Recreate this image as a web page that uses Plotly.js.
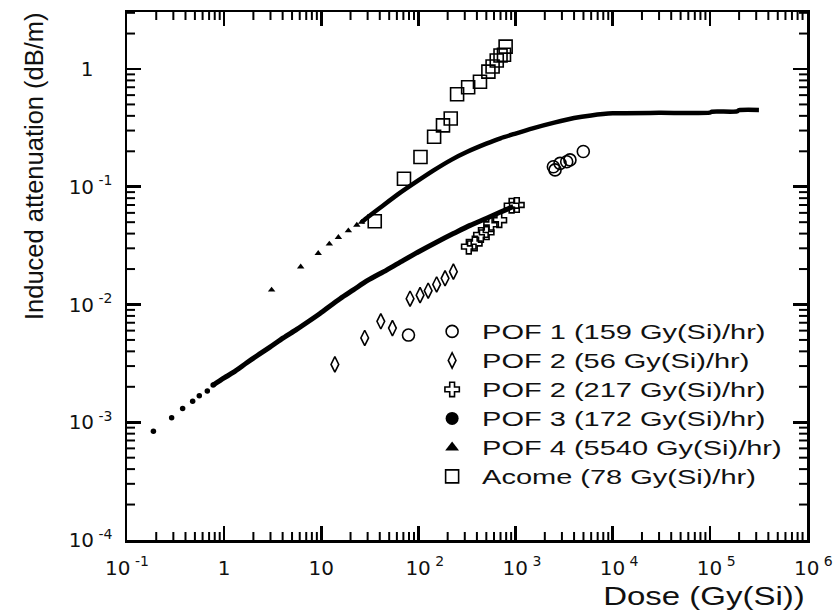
<!DOCTYPE html>
<html><head><meta charset="utf-8">
<script src="https://cdn.plot.ly/plotly-3.0.1.min.js"></script>
<style>
html,body{margin:0;padding:0;background:#fff;}
#chart{width:838px;height:615px;}
#chart .legend .scrollbox{clip-path:none !important;}
#chart .legendtext{transform:scaleX(1.45);transform-box:fill-box;transform-origin:left center;}
</style>
</head><body><div id="chart"></div>
<script>
// ---- data (dose in Gy(Si), induced attenuation in dB/m) ----
const pof1Dose = [79, 2450, 2550, 2870, 3360, 3630, 4980];
const pof1Att  = [0.0055, 0.148, 0.139, 0.158, 0.163, 0.169, 0.199];

const pof2aDose = [13.8, 28, 41, 54, 82, 104, 126, 154, 188, 229];
const pof2aAtt  = [0.0031, 0.0052, 0.0072, 0.0063, 0.0112, 0.012, 0.0131, 0.0148, 0.0167, 0.019];

const pof2bDose = [330, 380, 440, 504, 560, 680, 910, 1030];
const pof2bAtt  = [0.031, 0.033, 0.039, 0.041, 0.048, 0.052, 0.069, 0.07];

const pof3Dose = [0.187, 0.288, 0.374, 0.474, 0.555, 0.671,
  0.77, 1.0, 1.24, 1.71, 2.2, 2.96, 4.06, 5.58, 7.5, 9.7, 15.6, 21.4, 30, 47, 70, 104, 150, 229, 340, 504, 700, 949];
const pof3Att  = [0.00084, 0.00109, 0.00131, 0.00151, 0.00168, 0.00184,
  0.00207, 0.00238, 0.00265, 0.0032, 0.00369, 0.00434, 0.0052, 0.00615, 0.00725, 0.0084, 0.0112, 0.0133, 0.016, 0.0196, 0.0237, 0.0285, 0.0335, 0.040, 0.047, 0.054, 0.061, 0.068];
const pof3DenseStart = 6;

const pof4Dose = [3.08, 6.14, 9.3, 12.1, 15, 19, 23.2,
  26, 30, 43, 65, 98, 142, 220, 314, 500, 700, 1000, 1500, 2500, 4000, 6000, 10000, 30000, 100000, 105000, 190000, 200000, 320000];
const pof4Att  = [0.0133, 0.0209, 0.0272, 0.0327, 0.0372, 0.0423, 0.0473,
  0.050, 0.055, 0.069, 0.089, 0.112, 0.137, 0.17, 0.197, 0.232, 0.258, 0.283, 0.313, 0.35, 0.383, 0.403, 0.42, 0.424, 0.426, 0.434, 0.436, 0.447, 0.449];
const pof4DenseStart = 7;

const acomeDose = [35.5, 71, 105, 145, 179, 215, 250, 325, 430, 525, 580, 640, 700, 760, 790];
const acomeAtt  = [0.051, 0.117, 0.179, 0.266, 0.332, 0.38, 0.61, 0.70, 0.78, 0.95, 1.05, 1.18, 1.3, 1.32, 1.55];

const seriesNames = ['POF 1 (159 Gy(Si)/hr)', 'POF 2 (56 Gy(Si)/hr)', 'POF 2 (217 Gy(Si)/hr)',
  'POF 3 (172 Gy(Si)/hr)', 'POF 4 (5540 Gy(Si)/hr)', 'Acome (78 Gy(Si)/hr)'];

const xTickVals = [0.1, 1, 10, 100, 1e3, 1e4, 1e5, 1e6];
const xTickText = ['10<sup>\u00a0-1</sup>', '1', '10',
  '\u00a0\u00a010<sup>\u00a02</sup>', '\u00a0\u00a010<sup>\u00a03</sup>', '\u00a0\u00a010<sup>\u00a04</sup>',
  '\u00a0\u00a010<sup>\u00a05</sup>', '\u00a0\u00a010<sup>\u00a06</sup>'];
const yTickVals = [1e-4, 1e-3, 1e-2, 1e-1, 1];
const yTickText = ['10<sup>\u00a0-4</sup>', '10<sup>\u00a0-3</sup>', '10<sup>\u00a0-2</sup>', '10<sup>\u00a0-1</sup>', '1\u00a0\u00a0\u00a0'];

// minor tick positions (2..9 in each decade)
function minorTicks(k0, k1, maxVal) {
  const v = [];
  for (let k = k0; k <= k1; k++) for (let m = 2; m <= 9; m++) {
    const t = m * Math.pow(10, k);
    if (maxVal === undefined || t <= maxVal) v.push(t);
  }
  return v;
}
const xMinor = minorTicks(-1, 5);
const yMinor = minorTicks(-4, 0, 3.0);

const BLK = '#000';
const open = (sym, size) => ({symbol: sym, size: size, color: BLK, line: {color: BLK, width: 1.6}});

const traces = [
  {x: pof3Dose.slice(pof3DenseStart), y: pof3Att.slice(pof3DenseStart), mode: 'lines', line: {color: BLK, width: 5, shape: 'spline', smoothing: 0.8}, showlegend: false, hoverinfo: 'skip'},
  {x: pof4Dose.slice(pof4DenseStart), y: pof4Att.slice(pof4DenseStart), mode: 'lines', line: {color: BLK, width: 4.5, shape: 'spline', smoothing: 0.6}, showlegend: false, hoverinfo: 'skip'},
  {x: pof3Dose.slice(0, pof3DenseStart + 1), y: pof3Att.slice(0, pof3DenseStart + 1), mode: 'markers', marker: {symbol: 'circle', size: 5.5, color: BLK}, showlegend: false},
  {x: pof4Dose.slice(0, pof4DenseStart + 1), y: pof4Att.slice(0, pof4DenseStart + 1), mode: 'markers', marker: {symbol: 'triangle-up', size: 6.5, color: BLK}, showlegend: false},
  {x: acomeDose, y: acomeAtt, mode: 'markers', marker: open('square-open', 13), showlegend: false},
  {x: pof2bDose, y: pof2bAtt, mode: 'markers', marker: open('cross-open', 12), showlegend: false},
  {x: pof2aDose, y: pof2aAtt, mode: 'markers', marker: open('diamond-tall-open', 11), showlegend: false},
  {x: pof1Dose, y: pof1Att, mode: 'markers', marker: open('circle-open', 12), showlegend: false},
  // legend entries
  {x: [null], y: [null], mode: 'markers', name: seriesNames[0], marker: open('circle-open', 12)},
  {x: [null], y: [null], mode: 'markers', name: seriesNames[1], marker: open('diamond-tall-open', 11)},
  {x: [null], y: [null], mode: 'markers', name: seriesNames[2], marker: open('cross-open', 12)},
  {x: [null], y: [null], mode: 'markers', name: seriesNames[3], marker: {symbol: 'circle', size: 13, color: BLK}},
  {x: [null], y: [null], mode: 'markers', name: seriesNames[4], marker: {symbol: 'triangle-up', size: 12, color: BLK}},
  {x: [null], y: [null], mode: 'markers', name: seriesNames[5], marker: open('square-open', 13)}
];

// minor ticks on all four sides, drawn as short inside tick lines (pixel-sized from the axis edge)
const MINOR_LEN = 8;
const tickLine = {color: BLK, width: 2};
const shapes = [];
xMinor.forEach(function (v) {
  shapes.push({type: 'line', xref: 'x', yref: 'paper', ysizemode: 'pixel', yanchor: 0, x0: v, x1: v, y0: 0, y1: MINOR_LEN, line: tickLine, layer: 'above'});
  shapes.push({type: 'line', xref: 'x', yref: 'paper', ysizemode: 'pixel', yanchor: 1, x0: v, x1: v, y0: 0, y1: -MINOR_LEN, line: tickLine, layer: 'above'});
});
yMinor.forEach(function (v) {
  shapes.push({type: 'line', xref: 'paper', yref: 'y', xsizemode: 'pixel', xanchor: 0, x0: 0, x1: MINOR_LEN, y0: v, y1: v, line: tickLine, layer: 'above'});
  shapes.push({type: 'line', xref: 'paper', yref: 'y', xsizemode: 'pixel', xanchor: 1, x0: 0, x1: -MINOR_LEN, y0: v, y1: v, line: tickLine, layer: 'above'});
});

const axisCommon = {
  type: 'log', showgrid: false, zeroline: false,
  showline: true, linecolor: BLK, linewidth: 2.5, mirror: 'allticks',
  ticks: 'inside', ticklen: 14, tickwidth: 2.5, tickcolor: BLK,
  tickmode: 'array',
  tickfont: {family: 'DejaVu Sans', size: 20, color: '#111'}
};

const layout = {
  width: 838, height: 615,
  margin: {l: 127, r: 31, t: 12, b: 75},
  paper_bgcolor: '#fff', plot_bgcolor: '#fff',
  font: {family: 'DejaVu Sans', color: '#111'},
  showlegend: true,
  legend: {
    x: 0.434, y: 0.432, xanchor: 'left', yanchor: 'top',
    bgcolor: 'rgba(0,0,0,0)', borderwidth: 0, itemwidth: 50,
    font: {family: 'Liberation Sans', size: 20, color: '#111'},
    tracegroupgap: 0
  },
  xaxis: Object.assign({}, axisCommon, {range: [-1, 6], tickvals: xTickVals, ticktext: xTickText, ticklabelstandoff: 8}),
  yaxis: Object.assign({}, axisCommon, {range: [-4, 0.484], tickvals: yTickVals, ticktext: yTickText, ticklabelstandoff: 8}),
  shapes: shapes,
  annotations: [
    {text: 'Dose (Gy(Si))', xref: 'paper', yref: 'paper', x: 1.0, y: -0.136, xanchor: 'right', yanchor: 'bottom',
     showarrow: false, font: {family: 'Liberation Sans', size: 25, color: '#111'}},
    {text: 'Induced attenuation (dB/m)', xref: 'paper', yref: 'paper', x: -0.137, y: 0.708, xanchor: 'center', yanchor: 'middle',
     textangle: -90, showarrow: false, font: {family: 'Liberation Sans', size: 25.5, color: '#111'}}
  ]
};

Plotly.newPlot('chart', traces, layout, {displayModeBar: false, staticPlot: true}).then(function () {
  // the reference's lettering is horizontally wide; widen the x title the same way
  document.querySelectorAll('#chart .annotation-text').forEach(function (t) {
    if (t.textContent === 'Dose (Gy(Si))') {
      t.style.transformBox = 'fill-box';
      t.style.transformOrigin = 'right center';
      t.style.transform = 'scaleX(1.32)';
    }
  });
});
</script>
</body></html>
